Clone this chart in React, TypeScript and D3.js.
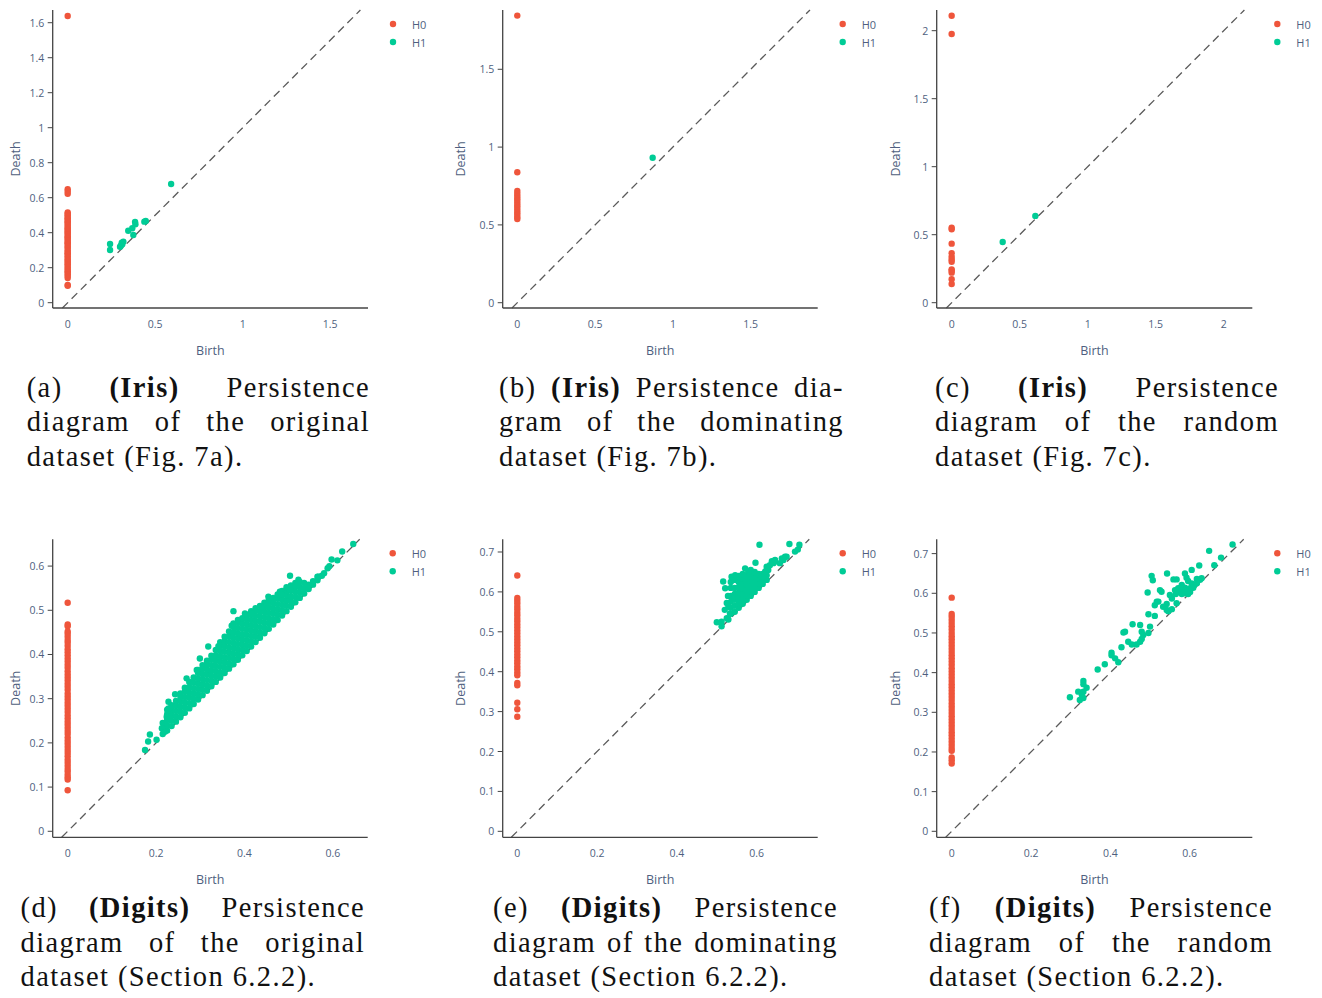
import React from 'react';
import * as d3 from 'd3';

type Pt = [number, number];
type Col = [number, number[]];

// ---------- data ----------

// (a) Iris, original
const IRIS_ORIG_H0 = [1.638, 0.649, 0.635, 0.622, 0.516, 0.508, 0.5, 0.49, 0.482, 0.475, 0.466, 0.458, 0.45, 0.44, 0.43, 0.422, 0.415, 0.405, 0.4, 0.39, 0.38, 0.372, 0.365, 0.355, 0.346, 0.34, 0.33, 0.32, 0.312, 0.3, 0.29, 0.283, 0.275, 0.265, 0.255, 0.246, 0.238, 0.228, 0.22, 0.21, 0.2, 0.19, 0.18, 0.172, 0.162, 0.152, 0.141, 0.101, 0.097];
const IRIS_ORIG_H1: Pt[] = [[0.591, 0.678], [0.385, 0.462], [0.387, 0.448], [0.438, 0.463], [0.446, 0.467], [0.369, 0.425], [0.375, 0.387], [0.346, 0.411], [0.309, 0.343], [0.318, 0.349], [0.299, 0.32], [0.305, 0.328], [0.242, 0.335], [0.242, 0.301], [0.312, 0.334]];

// (b) Iris, dominating
const IRIS_DOM_H0 = [1.845, 0.838, 0.718, 0.7, 0.685, 0.67, 0.655, 0.64, 0.625, 0.61, 0.595, 0.58, 0.565, 0.55, 0.538];
const IRIS_DOM_H1: Pt[] = [[0.87, 0.932]];

// (c) Iris, random
const IRIS_RAND_H0 = [2.11, 1.976, 0.551, 0.54, 0.434, 0.363, 0.338, 0.318, 0.301, 0.245, 0.235, 0.221, 0.172, 0.137];
const IRIS_RAND_H1: Pt[] = [[0.375, 0.446], [0.615, 0.638]];

// (d) Digits, original
const DIGITS_ORIG_H0 = [0.517, 0.468, 0.464, 0.452, 0.447, 0.44, 0.433, 0.427, 0.42, 0.412, 0.405, 0.398, 0.391, 0.384, 0.377, 0.37, 0.362, 0.355, 0.348, 0.341, 0.334, 0.327, 0.32, 0.312, 0.305, 0.298, 0.291, 0.284, 0.277, 0.27, 0.262, 0.255, 0.248, 0.241, 0.234, 0.227, 0.22, 0.212, 0.205, 0.198, 0.191, 0.184, 0.177, 0.17, 0.162, 0.155, 0.148, 0.141, 0.135, 0.128, 0.122, 0.117, 0.093];
const DIGITS_ORIG_H1_SPARSE: Pt[] = [[0.646, 0.65], [0.621, 0.633], [0.597, 0.615], [0.588, 0.595], [0.592, 0.6], [0.567, 0.576], [0.503, 0.578], [0.522, 0.569], [0.518, 0.557], [0.503, 0.546], [0.48, 0.542], [0.484, 0.535], [0.454, 0.531], [0.439, 0.508], [0.375, 0.498], [0.401, 0.493], [0.416, 0.493], [0.371, 0.465], [0.318, 0.418], [0.341, 0.419], [0.299, 0.391], [0.292, 0.365], [0.269, 0.346], [0.243, 0.31], [0.228, 0.293], [0.228, 0.278], [0.224, 0.259], [0.213, 0.233], [0.22, 0.225], [0.186, 0.219], [0.182, 0.203], [0.175, 0.184], [0.201, 0.207], [0.58, 0.584], [0.61, 0.613]];
const DIGITS_ORIG_H1_BAND: Col[] = [
  [0.215, [0.22, 0.232, 0.245]],
  [0.225, [0.228, 0.24, 0.252, 0.265, 0.275]],
  [0.235, [0.238, 0.25, 0.262, 0.274, 0.285]],
  [0.245, [0.248, 0.26, 0.272, 0.284, 0.295]],
  [0.255, [0.258, 0.27, 0.282, 0.294, 0.305, 0.312]],
  [0.265, [0.268, 0.28, 0.292, 0.304, 0.316, 0.325]],
  [0.275, [0.278, 0.29, 0.302, 0.314, 0.326, 0.338]],
  [0.285, [0.288, 0.3, 0.312, 0.324, 0.336, 0.348]],
  [0.295, [0.298, 0.31, 0.322, 0.334, 0.346, 0.358, 0.365]],
  [0.305, [0.308, 0.32, 0.332, 0.344, 0.356, 0.368, 0.376]],
  [0.315, [0.318, 0.33, 0.342, 0.354, 0.366, 0.378, 0.386]],
  [0.325, [0.328, 0.34, 0.352, 0.364, 0.376, 0.388, 0.397]],
  [0.335, [0.338, 0.35, 0.362, 0.374, 0.386, 0.398, 0.41]],
  [0.345, [0.348, 0.36, 0.372, 0.384, 0.396, 0.408, 0.42, 0.428]],
  [0.355, [0.358, 0.37, 0.382, 0.394, 0.406, 0.418, 0.43, 0.44]],
  [0.365, [0.368, 0.38, 0.392, 0.404, 0.416, 0.428, 0.44, 0.452]],
  [0.375, [0.378, 0.39, 0.402, 0.414, 0.426, 0.438, 0.45, 0.462, 0.47]],
  [0.385, [0.388, 0.4, 0.412, 0.424, 0.436, 0.448, 0.46, 0.472, 0.478]],
  [0.395, [0.398, 0.41, 0.422, 0.434, 0.446, 0.458, 0.47, 0.482]],
  [0.405, [0.408, 0.42, 0.432, 0.444, 0.456, 0.468, 0.48, 0.49]],
  [0.415, [0.418, 0.43, 0.442, 0.454, 0.466, 0.478, 0.49, 0.498]],
  [0.425, [0.428, 0.44, 0.452, 0.464, 0.476, 0.488, 0.5, 0.505]],
  [0.435, [0.438, 0.45, 0.462, 0.474, 0.486, 0.498, 0.51]],
  [0.445, [0.448, 0.46, 0.472, 0.484, 0.496, 0.508, 0.517]],
  [0.455, [0.458, 0.47, 0.482, 0.494, 0.506, 0.518, 0.524]],
  [0.465, [0.468, 0.48, 0.492, 0.504, 0.516, 0.528]],
  [0.475, [0.478, 0.49, 0.502, 0.514, 0.526, 0.536]],
  [0.485, [0.488, 0.5, 0.512, 0.524, 0.536, 0.544]],
  [0.495, [0.498, 0.51, 0.522, 0.534, 0.546, 0.552]],
  [0.505, [0.508, 0.52, 0.532, 0.544, 0.556]],
  [0.515, [0.518, 0.53, 0.542, 0.554, 0.562]],
  [0.525, [0.528, 0.54, 0.552, 0.564]],
  [0.535, [0.538, 0.55, 0.562]],
  [0.545, [0.548, 0.558]],
  [0.555, [0.558, 0.566]],
  [0.565, [0.568, 0.576]],
  [0.575, [0.578]],
];

// (e) Digits, dominating
const DIGITS_DOM_H0 = [0.641, 0.585, 0.578, 0.571, 0.563, 0.556, 0.548, 0.541, 0.533, 0.526, 0.518, 0.511, 0.503, 0.496, 0.488, 0.481, 0.473, 0.466, 0.458, 0.451, 0.443, 0.436, 0.428, 0.421, 0.413, 0.406, 0.398, 0.391, 0.372, 0.366, 0.322, 0.306, 0.287];
const DIGITS_DOM_H1_SPARSE: Pt[] = [[0.607, 0.718], [0.682, 0.72], [0.707, 0.718], [0.696, 0.701], [0.703, 0.706], [0.597, 0.673], [0.638, 0.677], [0.646, 0.676], [0.663, 0.684], [0.671, 0.688], [0.625, 0.663], [0.633, 0.667], [0.571, 0.659], [0.579, 0.652], [0.537, 0.638], [0.546, 0.642], [0.516, 0.626], [0.521, 0.609], [0.5, 0.524], [0.512, 0.525], [0.525, 0.534], [0.533, 0.546], [0.529, 0.563], [0.512, 0.514], [0.529, 0.531], [0.667, 0.68], [0.675, 0.688], [0.658, 0.672], [0.642, 0.672], [0.629, 0.655], [0.621, 0.651], [0.613, 0.638], [0.646, 0.68], [0.52, 0.555], [0.525, 0.572], [0.528, 0.59]];
const DIGITS_DOM_H1_CORE: Col[] = [
  [0.535, [0.545, 0.56, 0.575, 0.59, 0.61, 0.625]],
  [0.545, [0.55, 0.565, 0.58, 0.595, 0.61, 0.63]],
  [0.555, [0.56, 0.572, 0.585, 0.598, 0.612, 0.625, 0.64]],
  [0.565, [0.57, 0.582, 0.595, 0.608, 0.62, 0.633, 0.645]],
  [0.575, [0.58, 0.592, 0.605, 0.618, 0.63, 0.642]],
  [0.585, [0.59, 0.602, 0.615, 0.628, 0.64, 0.655]],
  [0.595, [0.6, 0.612, 0.625, 0.638, 0.65]],
  [0.605, [0.61, 0.622, 0.635, 0.645]],
  [0.615, [0.62, 0.632, 0.645]],
  [0.625, [0.63, 0.642]],
];

// (f) Digits, random
const DIGITS_RAND_H0 = [0.589, 0.548, 0.541, 0.533, 0.525, 0.517, 0.509, 0.5, 0.492, 0.484, 0.476, 0.468, 0.46, 0.452, 0.444, 0.436, 0.428, 0.42, 0.411, 0.403, 0.395, 0.387, 0.379, 0.371, 0.363, 0.355, 0.347, 0.339, 0.331, 0.322, 0.314, 0.306, 0.298, 0.29, 0.282, 0.274, 0.266, 0.258, 0.25, 0.242, 0.234, 0.226, 0.218, 0.21, 0.203, 0.186, 0.179, 0.171];
const DIGITS_RAND_H1: Pt[] = [[0.708, 0.723], [0.649, 0.707], [0.679, 0.69], [0.662, 0.671], [0.624, 0.67], [0.605, 0.659], [0.588, 0.65], [0.543, 0.65], [0.504, 0.644], [0.507, 0.633], [0.559, 0.635], [0.567, 0.635], [0.592, 0.639], [0.596, 0.631], [0.605, 0.625], [0.618, 0.636], [0.63, 0.638], [0.626, 0.634], [0.58, 0.621], [0.588, 0.614], [0.571, 0.613], [0.563, 0.608], [0.525, 0.608], [0.529, 0.604], [0.494, 0.602], [0.55, 0.596], [0.555, 0.587], [0.592, 0.606], [0.601, 0.613], [0.609, 0.614], [0.588, 0.6], [0.596, 0.598], [0.576, 0.613], [0.584, 0.608], [0.601, 0.603], [0.618, 0.625], [0.517, 0.579], [0.512, 0.57], [0.542, 0.573], [0.533, 0.566], [0.567, 0.575], [0.546, 0.555], [0.555, 0.56], [0.496, 0.547], [0.512, 0.543], [0.496, 0.5], [0.5, 0.516], [0.475, 0.52], [0.479, 0.503], [0.483, 0.495], [0.456, 0.522], [0.437, 0.503], [0.433, 0.501], [0.475, 0.478], [0.466, 0.471], [0.479, 0.485], [0.445, 0.478], [0.454, 0.471], [0.428, 0.464], [0.403, 0.45], [0.403, 0.444], [0.412, 0.436], [0.42, 0.426], [0.386, 0.421], [0.368, 0.408], [0.332, 0.379], [0.332, 0.371], [0.34, 0.362], [0.319, 0.352], [0.328, 0.344], [0.332, 0.352], [0.298, 0.338], [0.323, 0.331], [0.332, 0.336], [0.521, 0.579], [0.542, 0.558], [0.611, 0.62], [0.571, 0.604], [0.58, 0.598], [0.565, 0.598]];

const TICKS_IRIS_A = [0, 0.5, 1, 1.5];
const TICKS_IRIS_A_Y = [0, 0.2, 0.4, 0.6, 0.8, 1, 1.2, 1.4, 1.6];
const TICKS_IRIS_B = [0, 0.5, 1, 1.5];
const TICKS_IRIS_C = [0, 0.5, 1, 1.5, 2];
const TICKS_DIGITS_X = [0, 0.2, 0.4, 0.6];
const TICKS_DIGITS_D_Y = [0, 0.1, 0.2, 0.3, 0.4, 0.5, 0.6];
const TICKS_DIGITS_EF_Y = [0, 0.1, 0.2, 0.3, 0.4, 0.5, 0.6, 0.7];

const LEGEND = ['H0', 'H1'];

const CAPTION_A = ['(a) *(Iris)* Persistence', 'diagram of the original', 'dataset (Fig. 7a).'];
const CAPTION_B = ['(b) *(Iris)* Persistence dia-', 'gram of the dominating', 'dataset (Fig. 7b).'];
const CAPTION_C = ['(c) *(Iris)* Persistence', 'diagram of the random', 'dataset (Fig. 7c).'];
const CAPTION_D = ['(d) *(Digits)* Persistence', 'diagram of the original', 'dataset (Section 6.2.2).'];
const CAPTION_E = ['(e) *(Digits)* Persistence', 'diagram of the dominating', 'dataset (Section 6.2.2).'];
const CAPTION_F = ['(f) *(Digits)* Persistence', 'diagram of the random', 'dataset (Section 6.2.2).'];

// ---------- styling ----------
const SANS = '"Open Sans", "Liberation Sans", sans-serif';
const SERIF_NAME = 'Liberation Serif';
const TEXT = '#4f5f80';
const RED = '#ef553b';
const GREEN = '#00cc96';
const CAP_SIZE = 28.5;
const CAP_LS = 1.4;

const unpack = (cols: Col[]): Pt[] => cols.flatMap(([b, ds]) => ds.map(d => [b, d] as Pt));

interface PanelSpec {
    h0: number[];
    h1: Pt[];
    left: number; right: number; top: number; bottom: number;
    xDomain: [number, number];
    yDomain: [number, number];
    xTicks: number[];
    yTicks: number[];
    deathX: number;
}

const fmt = d3.format('~g');

const Panel: React.FC<{ spec: PanelSpec }> = ({ spec }) => {
    const x = d3.scaleLinear().domain(spec.xDomain).range([spec.left, spec.right]);
    const y = d3.scaleLinear().domain(spec.yDomain).range([spec.bottom, spec.top]);
    const [lo, hi] = spec.yDomain;
    const r = 3.2;
    const midX = (spec.left + spec.right) / 2;
    const midY = (spec.top + spec.bottom) / 2;

    return (
        <g>
            <line x1={x(lo)} y1={y(lo)} x2={x(hi)} y2={y(hi)} stroke="#5a5a5a" strokeWidth={1.3} strokeDasharray="8,5" />

            {spec.h0.map((d, i) => (
                <circle key={'h0' + i} cx={x(0)} cy={y(d)} r={r} fill={RED} />
            ))}
            {spec.h1.map(([b, d], i) => (
                <circle key={'h1' + i} cx={x(b)} cy={y(d)} r={r} fill={GREEN} />
            ))}

            <line x1={spec.left} y1={spec.bottom} x2={spec.right} y2={spec.bottom} stroke="#444" strokeWidth={1.3} />
            <line x1={spec.left} y1={spec.top} x2={spec.left} y2={spec.bottom} stroke="#444" strokeWidth={1.3} />

            {spec.yTicks.map(t => (
                <g key={'yt' + t}>
                    <line x1={spec.left - 5} x2={spec.left} y1={y(t)} y2={y(t)} stroke="#444" strokeWidth={1} />
                    <text x={spec.left - 8.5} y={y(t)} textAnchor="end" dominantBaseline="central"
                        fontFamily={SANS} fontSize={10.5} fill={TEXT}>{fmt(t)}</text>
                </g>
            ))}
            {spec.xTicks.map(t => (
                <text key={'xt' + t} x={x(t)} y={spec.bottom + 20} textAnchor="middle"
                    fontFamily={SANS} fontSize={10.5} fill={TEXT}>{fmt(t)}</text>
            ))}

            <text x={midX} y={spec.bottom + 47} textAnchor="middle" fontFamily={SANS} fontSize={12.5} fill={TEXT}>Birth</text>
            <text transform={`translate(${spec.left - spec.deathX}, ${midY}) rotate(-90)`} textAnchor="middle"
                dominantBaseline="central" fontFamily={SANS} fontSize={12.5} fill={TEXT}>Death</text>

            {LEGEND.map((name, i) => (
                <g key={name}>
                    <circle cx={spec.right + 25} cy={spec.top + 14 + i * 18} r={r} fill={i === 0 ? RED : GREEN} />
                    <text x={spec.right + 44} y={spec.top + 14 + i * 18} dominantBaseline="central"
                        fontFamily={SANS} fontSize={11} fill={TEXT}>{name}</text>
                </g>
            ))}
        </g>
    );
};

let measureCtx: CanvasRenderingContext2D | null = null;
function wordWidth(text: string, bold: boolean): number {
    if (!measureCtx) measureCtx = document.createElement('canvas').getContext('2d');
    if (!measureCtx) return text.length * CAP_SIZE * 0.5;
    measureCtx.font = `${bold ? 'bold ' : ''}${CAP_SIZE}px "${SERIF_NAME}"`;
    return measureCtx.measureText(text).width + CAP_LS * text.length;
}

const Caption: React.FC<{ lines: string[]; x0: number; x1: number; y0: number }> = ({ lines, x0, x1, y0 }) => {
    const lineGap = 34.5;
    return (
        <g fontFamily={`"${SERIF_NAME}", "Times New Roman", serif`} fontSize={CAP_SIZE} fill="#111" letterSpacing={CAP_LS}>
            {lines.map((line, li) => {
                const yy = y0 + li * lineGap;
                if (li === lines.length - 1) {
                    return <text key={li} x={x0} y={yy}>{line}</text>;
                }
                const words = line.split(' ').map(w => {
                    const bold = w.startsWith('*');
                    return { t: bold ? w.slice(1, -1) : w, bold };
                });
                const widths = words.map(w => wordWidth(w.t, w.bold));
                const total = widths.reduce((a, b) => a + b, 0);
                const gap = (x1 - x0 - total) / (words.length - 1);
                let cx = x0;
                return (
                    <g key={li}>
                        {words.map((w, wi) => {
                            const px = cx;
                            cx += widths[wi] + gap;
                            return <text key={wi} x={px} y={yy} fontWeight={w.bold ? 'bold' : 'normal'}>{w.t}</text>;
                        })}
                    </g>
                );
            })}
        </g>
    );
};

const PANELS: PanelSpec[] = [
    {
        h0: IRIS_ORIG_H0, h1: IRIS_ORIG_H1,
        left: 52.7, right: 368, top: 10, bottom: 308,
        xDomain: [-0.0857, 1.716], yDomain: [-0.0303, 1.6726],
        xTicks: TICKS_IRIS_A, yTicks: TICKS_IRIS_A_Y, deathX: 37.7,
    },
    {
        h0: IRIS_DOM_H0, h1: IRIS_DOM_H1,
        left: 502.7, right: 817.7, top: 10, bottom: 308,
        xDomain: [-0.0938, 1.9306], yDomain: [-0.034, 1.881],
        xTicks: TICKS_IRIS_B, yTicks: TICKS_IRIS_B, deathX: 42,
    },
    {
        h0: IRIS_RAND_H0, h1: IRIS_RAND_H1,
        left: 936.7, right: 1252.3, top: 10, bottom: 308,
        xDomain: [-0.11, 2.21], yDomain: [-0.039, 2.152],
        xTicks: TICKS_IRIS_C, yTicks: TICKS_IRIS_C, deathX: 41.7,
    },
    {
        h0: DIGITS_ORIG_H0, h1: [...unpack(DIGITS_ORIG_H1_BAND), ...DIGITS_ORIG_H1_SPARSE],
        left: 52.7, right: 367.7, top: 539.3, bottom: 837.3,
        xDomain: [-0.0339, 0.6787], yDomain: [-0.0136, 0.6606],
        xTicks: TICKS_DIGITS_X, yTicks: TICKS_DIGITS_D_Y, deathX: 37.7,
    },
    {
        h0: DIGITS_DOM_H0, h1: [...unpack(DIGITS_DOM_H1_CORE), ...DIGITS_DOM_H1_SPARSE],
        left: 502.7, right: 817.7, top: 539.3, bottom: 837.3,
        xDomain: [-0.0366, 0.7529], yDomain: [-0.015, 0.7318],
        xTicks: TICKS_DIGITS_X, yTicks: TICKS_DIGITS_EF_Y, deathX: 42,
    },
    {
        h0: DIGITS_RAND_H0, h1: DIGITS_RAND_H1,
        left: 936.7, right: 1252.3, top: 539.3, bottom: 837.3,
        xDomain: [-0.0378, 0.7578], yDomain: [-0.0151, 0.7361],
        xTicks: TICKS_DIGITS_X, yTicks: TICKS_DIGITS_EF_Y, deathX: 41.7,
    },
];

const CAPTIONS = [
    { lines: CAPTION_A, x0: 26.7, x1: 370, y0: 396.5 },
    { lines: CAPTION_B, x0: 499, x1: 844, y0: 396.5 },
    { lines: CAPTION_C, x0: 935, x1: 1279, y0: 396.5 },
    { lines: CAPTION_D, x0: 20.5, x1: 365, y0: 917 },
    { lines: CAPTION_E, x0: 493, x1: 838, y0: 917 },
    { lines: CAPTION_F, x0: 929, x1: 1273, y0: 917 },
];

const App: React.FC = () => (
    <svg width={1322} height={998} style={{ position: 'absolute', left: 0, top: 0, background: '#fff' }}>
        <rect width={1322} height={998} fill="#fff" />
        {PANELS.map((p, i) => <Panel key={i} spec={p} />)}
        {CAPTIONS.map((c, i) => <Caption key={i} {...c} />)}
    </svg>
);

export default App;
